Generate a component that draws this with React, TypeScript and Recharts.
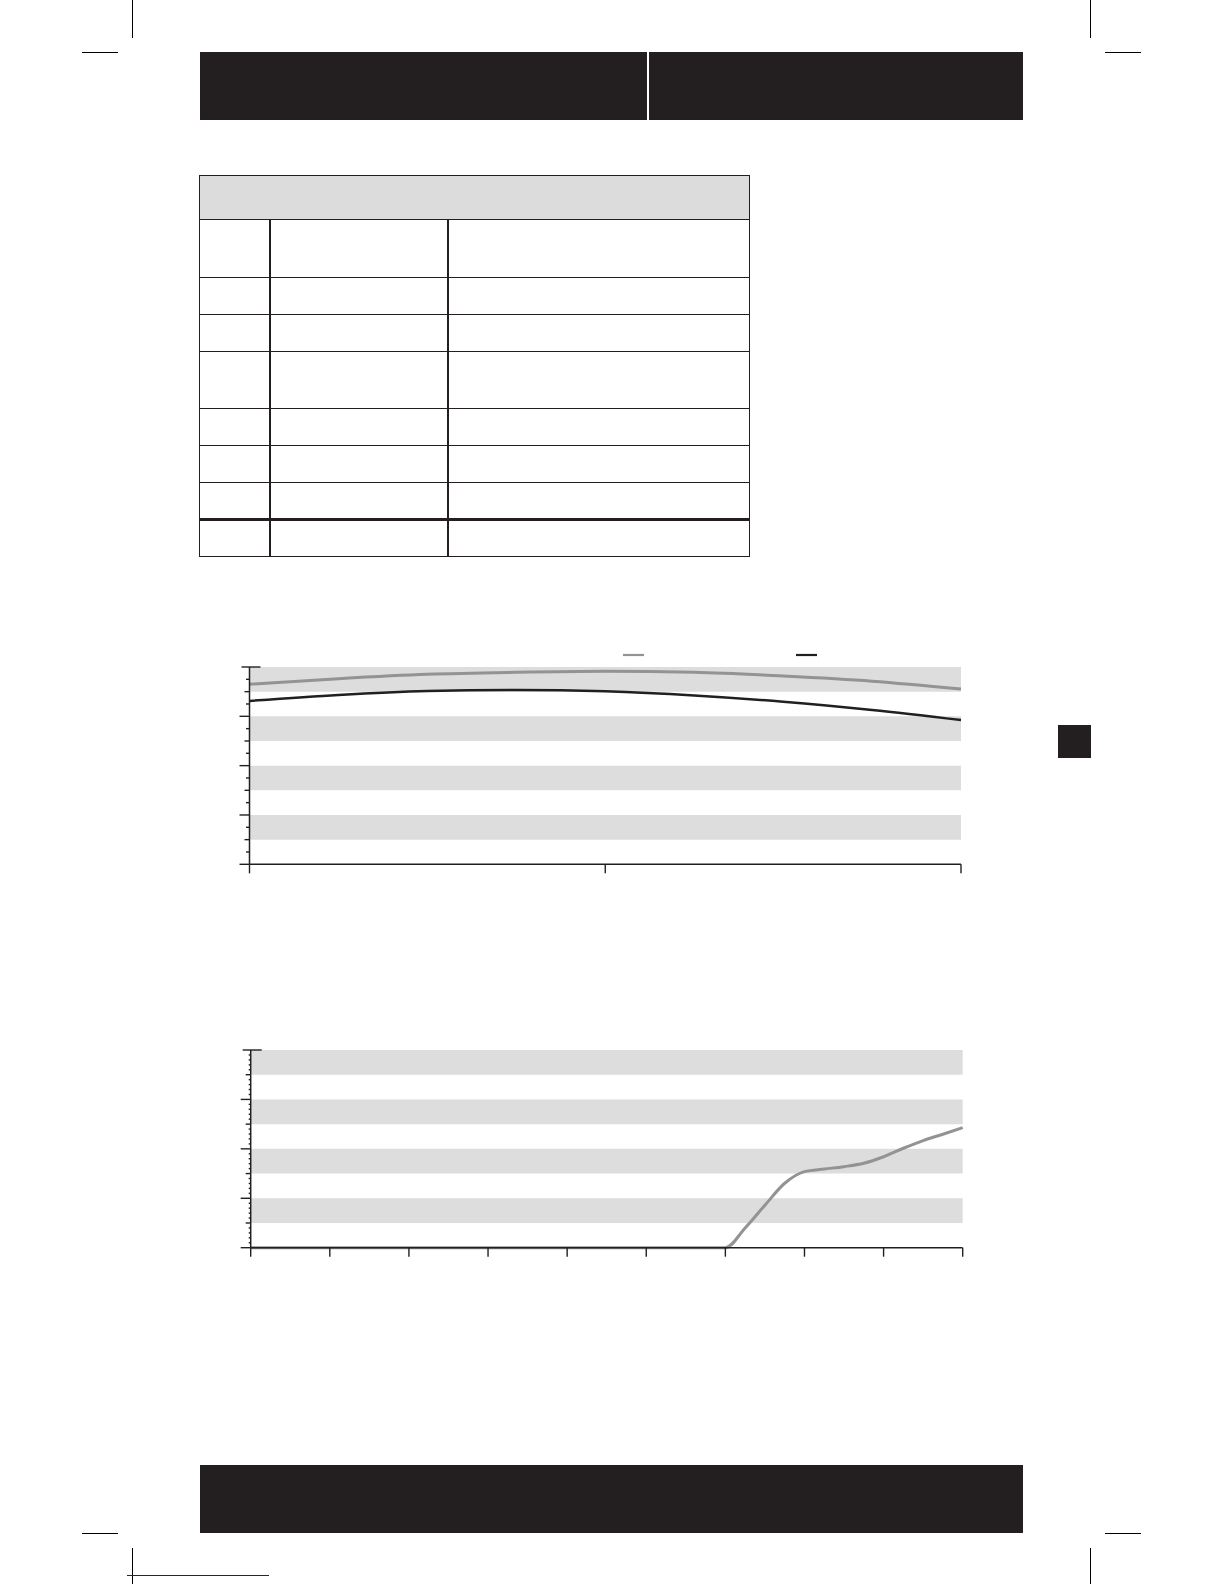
import {
  LineChart,
  Line,
  XAxis,
  YAxis,
  ReferenceArea,
  Legend,
} from "recharts";

// chart 1: two curves over three x positions
const topX = [0, 0.25, 0.5, 0.75, 1, 1.25, 1.5, 1.75, 2];
const topGray = [91.3, 94.1, 96.3, 97.3, 97.8, 97.3, 95.4, 92.8, 88.8];
const topBlack = [82.8, 85.8, 87.8, 88.4, 87.7, 85.6, 82.4, 78.2, 73.1];
const topXTicks = [0, 1, 2];
const topYTicks = Array.from({ length: 17 }, (_, i) => i * 6.25);

// chart 2: one curve over ten x positions
const lowX = [0, 1, 2, 3, 4, 5, 6, 6.25, 6.5, 6.75, 7, 7.25, 7.5, 7.75, 8, 8.25, 8.5, 8.75, 9];
const lowGray = [0, 0, 0, 0, 0, 0, 0, 10, 21.5, 32.6, 38.5, 39.8, 41, 42.7, 46, 50.3, 54.2, 57.4, 60.7];
const lowXTicks = [0, 1, 2, 3, 4, 5, 6, 7, 8, 9];
const lowYTicks = Array.from({ length: 41 }, (_, i) => i * 2.5);

// shaded bands (value ranges)
const bands: [number, number][] = [
  [87.5, 100],
  [62.5, 75],
  [37.5, 50],
  [12.5, 25],
];

// table row heights (blank form)
const tableRows = [58, 37, 37.2, 56.8, 37, 37, 36.7, 36.7];
const tableCols = [69, 178, 302];

const INK = "#231f20";
const GRAY = "#939393";
const BAND = "#dddddd";

const topData = topX.map((x, i) => ({ x, gray: topGray[i], black: topBlack[i] }));
const lowData = lowX.map((x, i) => ({ x, gray: lowGray[i] }));

function makeYTick(count: number, perMajor: number, minorLen: number) {
  return (props: any) => {
    const { x, y, index } = props;
    let x1 = x - minorLen;
    let x2 = x;
    if (index % perMajor === 0) x1 = x - 10;
    else if (index % (perMajor / 2) === 0) x1 = x - 5;
    if (index === count - 1) {
      x1 = x - 8;
      x2 = x + 11;
    }
    return <line x1={x1} x2={x2} y1={y} y2={y} stroke={INK} strokeWidth={1.4} />;
  };
}

function XTick(props: any) {
  const { x, y } = props;
  return <line x1={x} x2={x} y1={y} y2={y + 9} stroke={INK} strokeWidth={1.4} />;
}

const legendOrder = ["gray", "black"];

function LegendSwatches(props: any) {
  const items = [...(props.payload || [])].sort(
    (a: any, b: any) => legendOrder.indexOf(a.dataKey) - legendOrder.indexOf(b.dataKey)
  );
  return (
    <svg width={200} height={6} style={{ display: "block" }}>
      {items.map((it: any, i: number) => (
        <line
          key={i}
          x1={i * 173}
          x2={i * 173 + 21}
          y1={3}
          y2={3}
          stroke={it.color}
          strokeWidth={2.2}
        />
      ))}
    </svg>
  );
}

function Box({ l, t, w, h, bg }: { l: number; t: number; w: number; h: number; bg: string }) {
  return <div style={{ position: "absolute", left: l, top: t, width: w, height: h, background: bg }} />;
}

function BlankTable() {
  const width = tableCols.reduce((a, b) => a + b, 0);
  const headH = 43.5;
  let top = headH;
  const rows = tableRows.map((h, i) => {
    const thick = i === tableRows.length - 1;
    const r = (
      <div
        key={i}
        style={{
          position: "absolute",
          left: 0,
          top: top - (thick ? 1.5 : 0.75),
          width,
          height: thick ? 3 : 1.5,
          background: INK,
        }}
      />
    );
    top += h;
    return r;
  });
  return (
    <div
      style={{
        position: "absolute",
        left: 199,
        top: 175,
        width,
        height: top,
        border: `1.5px solid ${INK}`,
        boxSizing: "content-box",
      }}
    >
      <div style={{ position: "absolute", left: 0, top: 0, width, height: headH, background: "#dcdcdc" }} />
      {rows}
      <div style={{ position: "absolute", left: tableCols[0], top: headH, width: 1.5, height: top - headH, background: INK }} />
      <div
        style={{
          position: "absolute",
          left: tableCols[0] + tableCols[1],
          top: headH,
          width: 1.5,
          height: top - headH,
          background: INK,
        }}
      />
    </div>
  );
}

export default function App() {
  return (
    <div
      style={{
        position: "absolute",
        left: 0,
        top: 0,
        width: 1224,
        height: 1584,
        background: "#ffffff",
        overflow: "hidden",
      }}
    >
      {/* crop marks */}
      <Box l={132} t={0} w={1} h={38} bg="#000" />
      <Box l={82} t={51.5} w={36} h={1} bg="#000" />
      <Box l={1090} t={0} w={1} h={38} bg="#000" />
      <Box l={1105} t={51.5} w={36} h={1} bg="#000" />
      <Box l={82} t={1533} w={36} h={1} bg="#000" />
      <Box l={132} t={1548} w={1} h={36} bg="#000" />
      <Box l={1105} t={1533} w={36} h={1} bg="#000" />
      <Box l={1090} t={1548} w={1} h={36} bg="#000" />
      <Box l={127} t={1575} w={142} h={1} bg="#1c1c80" />

      {/* header and footer bars */}
      <Box l={200} t={51.5} w={447} h={68.5} bg={INK} />
      <Box l={649} t={51.5} w={374} h={68.5} bg={INK} />
      <Box l={200} t={1465} w={823} h={68} bg={INK} />

      {/* side tab */}
      <Box l={1058} t={724.5} w={33} h={33.5} bg={INK} />

      <BlankTable />

      <div style={{ position: "absolute", left: 200, top: 630 }}>
        <LineChart
          width={800}
          height={260}
          data={topData}
          margin={{ top: 37, right: 39, bottom: 5.7, left: 9.5 }}
        >
          {bands.map(([a, b], i) => (
            <ReferenceArea key={i} y1={a} y2={b} fill={BAND} fillOpacity={1} stroke="none" />
          ))}
          <XAxis
            dataKey="x"
            type="number"
            domain={[0, 2]}
            ticks={topXTicks}
            height={20}
            tickSize={0}
            tickMargin={0}
            tickLine={false}
            tick={XTick}
            axisLine={{ stroke: INK, strokeWidth: 1.5 }}
          />
          <YAxis
            type="number"
            domain={[0, 100]}
            ticks={topYTicks}
            width={40}
            tickSize={0}
            tickMargin={0}
            tickLine={false}
            tick={makeYTick(topYTicks.length, 4, 3.5)}
            axisLine={{ stroke: INK, strokeWidth: 1.5 }}
            interval={0}
          />
          <Legend
            layout="vertical"
            align="center"
            verticalAlign="middle"
            content={LegendSwatches}
            wrapperStyle={{ left: 423, top: 21.7, width: 200, height: 6 }}
          />
          <Line
            dataKey="gray"
            type="monotone"
            stroke={GRAY}
            strokeWidth={3}
            dot={false}
            isAnimationActive={false}
          />
          <Line
            dataKey="black"
            type="monotone"
            stroke={INK}
            strokeWidth={2.5}
            dot={false}
            isAnimationActive={false}
          />
        </LineChart>
      </div>

      <div style={{ position: "absolute", left: 200, top: 1015 }}>
        <LineChart
          width={800}
          height={260}
          data={lowData}
          margin={{ top: 35, right: 37.3, bottom: 7.3, left: 10.7 }}
        >
          {bands.map(([a, b], i) => (
            <ReferenceArea key={i} y1={a} y2={b} fill={BAND} fillOpacity={1} stroke="none" />
          ))}
          <XAxis
            dataKey="x"
            type="number"
            domain={[0, 9]}
            ticks={lowXTicks}
            height={20}
            tickSize={0}
            tickMargin={0}
            tickLine={false}
            tick={XTick}
            axisLine={{ stroke: INK, strokeWidth: 1.5 }}
            interval={0}
          />
          <YAxis
            type="number"
            domain={[0, 100]}
            ticks={lowYTicks}
            width={40}
            tickSize={0}
            tickMargin={0}
            tickLine={false}
            tick={makeYTick(lowYTicks.length, 10, 2)}
            axisLine={{ stroke: INK, strokeWidth: 1.5 }}
            interval={0}
          />
          <Line
            dataKey="gray"
            type="monotone"
            stroke={GRAY}
            strokeWidth={3}
            dot={false}
            isAnimationActive={false}
          />
        </LineChart>
      </div>
    </div>
  );
}
